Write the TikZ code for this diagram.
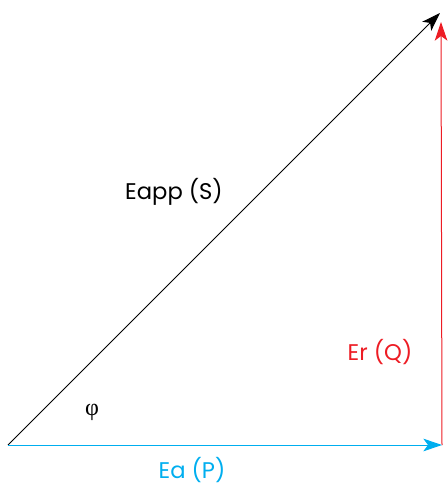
\documentclass[tikz,border=0pt]{standalone}
\usepackage{fontspec}
\setmainfont{Poppins}
\newfontfamily\greekfont{Liberation Serif}
\usetikzlibrary{arrows.meta}
\definecolor{qred}{RGB}{237,28,36}
\definecolor{pblue}{RGB}{0,174,239}

\begin{document}
\begin{tikzpicture}[x=0.75pt, y=-0.75pt, font=\fontsize{17}{19}\selectfont,
  vec/.style={-{Stealth[length=14pt, width=9.5pt, inset=3.5pt]}, line width=0.75pt},
  lab/.style={inner sep=0pt, anchor=center}]
  \useasboundingbox (0,0) rectangle (447,486);
  % corners of the triangle
  \coordinate (O) at (8,445);
  \coordinate (P) at (442,445);
  \coordinate (Q) at (441,22);
  \coordinate (S) at (440,13);
  % vectors
  \draw[vec, black] (O) -- (S);
  \draw[vec, qred] (P) -- (Q);
  \draw[vec, pblue] (O) -- (P);
  % labels
  \node[lab] (labS) at (174,192) {Eapp (S)};
  \node[lab, text=qred] (labQ) at (380,352) {Er (Q)};
  \node[lab, text=pblue] (labP) at (192,470) {Ea (P)};
  \node[lab, font=\greekfont\fontsize{18}{20}\selectfont] (phi) at (92,412) {φ};
\end{tikzpicture}
\end{document}
